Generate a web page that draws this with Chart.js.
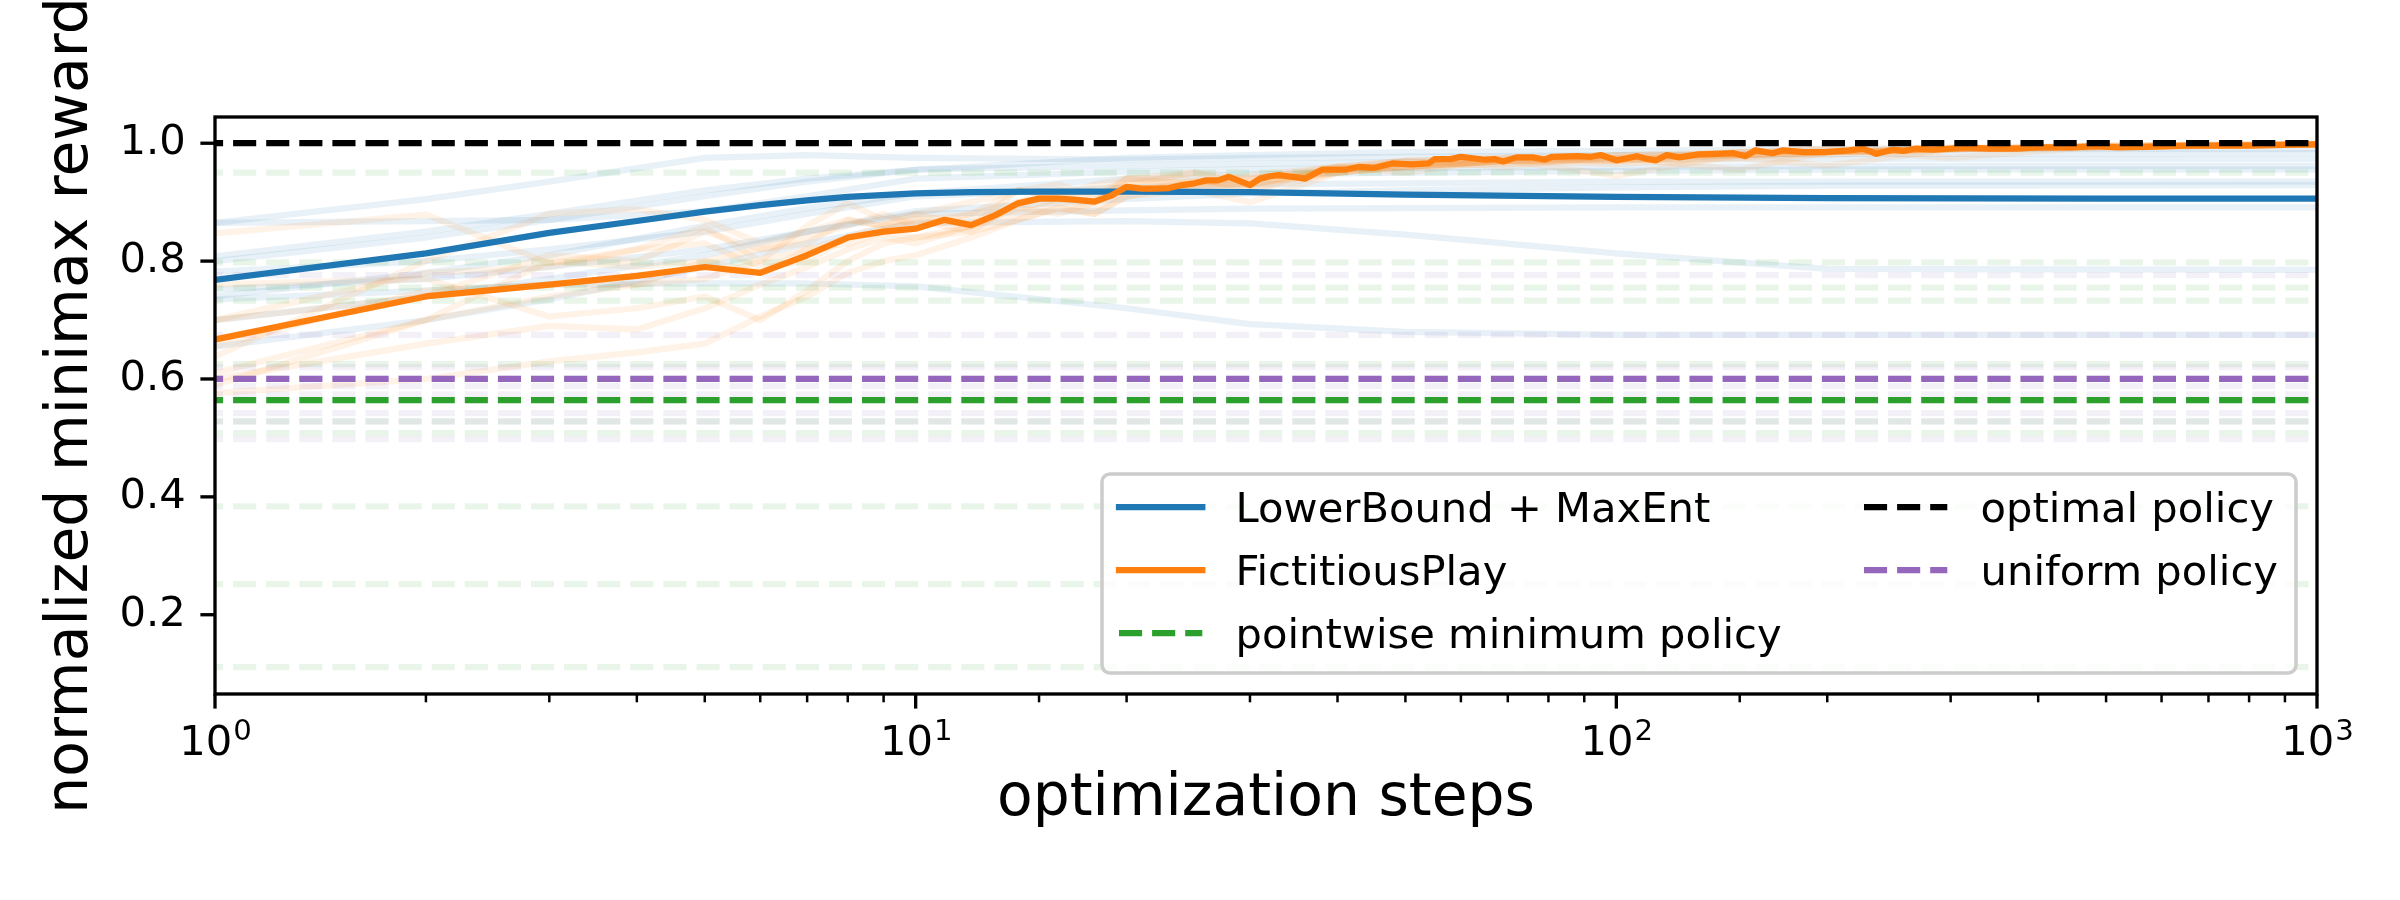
<!DOCTYPE html>
<html>
<head>
<meta charset="UTF-8">
<title>normalized minimax reward</title>
<style>
  html, body { margin: 0; padding: 0; background: #fff; }
  #wrap { width: 2400px; height: 900px; }
</style>
</head>
<body>
<div id="wrap"><canvas id="chart"></canvas></div>

<script src="https://cdn.jsdelivr.net/npm/chart.js@4.4.0/dist/chart.umd.min.js"></script>

<script>
// values
const xLimits = [1, 1000];
const yLimits = [0.0655, 1.0445];

// LowerBound + MaxEnt (mean)
const lbSteps = [1, 2, 3, 4, 5, 6, 7, 8, 10, 12, 15, 20, 30, 50, 100, 200, 500, 1000];
const lbMean  = [0.768, 0.813, 0.848, 0.868, 0.884, 0.895, 0.903, 0.909, 0.915, 0.917, 0.918, 0.918, 0.917, 0.913, 0.909, 0.907, 0.906, 0.906];

// FictitiousPlay (mean)
const fpSteps = [1, 2, 3, 4, 5, 6, 7, 8, 9, 10, 11, 12, 13, 14, 15, 16, 17, 18, 19, 20,
  21, 22, 23, 24, 25, 26, 27, 28, 30, 31, 32, 33, 36, 38, 41, 43, 45, 48, 51, 54,
  55, 58, 60, 65, 67, 69, 72, 76, 79, 81, 88, 92, 95, 100, 107, 110, 114, 118, 123, 131,
  139, 147, 153, 158, 167, 173, 185, 198, 215, 225, 235, 248, 257, 268, 283, 299, 316, 340, 373, 400,
  447, 480, 520, 572, 650, 720, 800, 900, 1000];
const fpMean = [0.667, 0.740, 0.760, 0.775, 0.790, 0.780, 0.810, 0.840, 0.850, 0.855, 0.870, 0.861, 0.878, 0.898, 0.906, 0.906, 0.904, 0.901, 0.911, 0.926,
  0.923, 0.923, 0.924, 0.929, 0.932, 0.937, 0.937, 0.943, 0.929, 0.940, 0.944, 0.946, 0.940, 0.955, 0.955, 0.960, 0.958, 0.966, 0.964, 0.966,
  0.973, 0.973, 0.977, 0.972, 0.973, 0.969, 0.976, 0.976, 0.972, 0.977, 0.978, 0.977, 0.980, 0.971, 0.978, 0.974, 0.971, 0.980, 0.976, 0.981,
  0.982, 0.983, 0.978, 0.988, 0.983, 0.988, 0.985, 0.985, 0.988, 0.991, 0.982, 0.989, 0.987, 0.991, 0.989, 0.991, 0.993, 0.991, 0.991, 0.993,
  0.993, 0.995, 0.993, 0.994, 0.996, 0.996, 0.996, 0.997, 0.998];

// single runs (faint lines)
const lbRunSteps = [1, 2, 3, 5, 7, 10, 20, 30, 50, 100, 200, 1000];
const lbRuns = [
  [0.865, 0.905, 0.935, 0.975, 0.980, 0.975, 0.972, 0.975, 0.977, 0.980, 0.982, 0.983],
  [0.865, 0.868, 0.870, 0.885, 0.910, 0.940, 0.952, 0.956, 0.958, 0.960, 0.961, 0.961],
  [0.808, 0.850, 0.880, 0.920, 0.940, 0.955, 0.962, 0.965, 0.968, 0.972, 0.973, 0.973],
  [0.782, 0.800, 0.820, 0.850, 0.880, 0.910, 0.925, 0.930, 0.932, 0.935, 0.935, 0.935],
  [0.752, 0.770, 0.790, 0.820, 0.850, 0.880, 0.886, 0.889, 0.890, 0.891, 0.891, 0.891],
  [0.735, 0.750, 0.760, 0.762, 0.762, 0.757, 0.720, 0.693, 0.680, 0.675, 0.675, 0.675],
  [0.655, 0.700, 0.735, 0.790, 0.830, 0.865, 0.868, 0.864, 0.845, 0.813, 0.787, 0.785],
  [0.740, 0.780, 0.810, 0.860, 0.890, 0.915, 0.940, 0.947, 0.950, 0.953, 0.955, 0.955],
  [0.700, 0.740, 0.770, 0.810, 0.850, 0.885, 0.905, 0.915, 0.920, 0.925, 0.928, 0.929],
  [0.800, 0.840, 0.870, 0.910, 0.935, 0.955, 0.975, 0.980, 0.985, 0.987, 0.990, 0.990]
];

const fpRunSteps = [1, 2, 3, 4, 5, 6, 7, 8, 9, 10, 12, 14, 16, 18, 20, 25, 30, 40, 50, 70, 100, 150, 200, 300, 500, 1000];
const fpRuns = [
  [0.847, 0.879, 0.796, 0.820, 0.858, 0.800, 0.860, 0.898, 0.870, 0.880, 0.900, 0.920, 0.910, 0.930, 0.940, 0.950, 0.940, 0.960, 0.970, 0.975, 0.980, 0.985, 0.990, 0.993, 0.996, 0.999],
  [0.760, 0.770, 0.706, 0.720, 0.740, 0.700, 0.750, 0.800, 0.830, 0.840, 0.850, 0.870, 0.890, 0.880, 0.910, 0.920, 0.900, 0.950, 0.960, 0.970, 0.975, 0.955, 0.985, 0.990, 0.994, 0.998],
  [0.638, 0.800, 0.880, 0.888, 0.870, 0.830, 0.850, 0.870, 0.860, 0.880, 0.860, 0.920, 0.910, 0.900, 0.940, 0.930, 0.945, 0.960, 0.950, 0.975, 0.970, 0.985, 0.990, 0.975, 0.995, 0.999],
  [0.610, 0.700, 0.800, 0.790, 0.800, 0.820, 0.840, 0.860, 0.880, 0.860, 0.880, 0.900, 0.920, 0.910, 0.930, 0.950, 0.930, 0.955, 0.970, 0.960, 0.980, 0.980, 0.985, 0.990, 0.995, 0.998],
  [0.600, 0.660, 0.690, 0.684, 0.720, 0.760, 0.790, 0.820, 0.840, 0.830, 0.860, 0.890, 0.880, 0.900, 0.920, 0.920, 0.935, 0.950, 0.960, 0.970, 0.965, 0.975, 0.962, 0.990, 0.993, 0.998],
  [0.576, 0.600, 0.630, 0.645, 0.660, 0.706, 0.740, 0.780, 0.800, 0.810, 0.840, 0.870, 0.890, 0.880, 0.910, 0.930, 0.920, 0.950, 0.960, 0.965, 0.975, 0.980, 0.980, 0.990, 0.994, 0.997],
  [0.590, 0.700, 0.740, 0.760, 0.800, 0.780, 0.820, 0.840, 0.850, 0.870, 0.850, 0.900, 0.910, 0.920, 0.930, 0.935, 0.940, 0.955, 0.960, 0.970, 0.970, 0.980, 0.985, 0.990, 0.995, 0.998],
  [0.700, 0.780, 0.790, 0.820, 0.830, 0.790, 0.800, 0.840, 0.860, 0.860, 0.870, 0.890, 0.905, 0.900, 0.920, 0.930, 0.930, 0.950, 0.965, 0.970, 0.970, 0.975, 0.985, 0.990, 0.993, 0.998],
  [0.655, 0.750, 0.760, 0.760, 0.770, 0.800, 0.820, 0.830, 0.850, 0.840, 0.860, 0.880, 0.900, 0.890, 0.920, 0.935, 0.930, 0.960, 0.960, 0.970, 0.945, 0.980, 0.985, 0.990, 0.994, 0.998],
  [0.700, 0.740, 0.810, 0.800, 0.850, 0.820, 0.830, 0.870, 0.860, 0.870, 0.880, 0.920, 0.930, 0.910, 0.940, 0.940, 0.920, 0.960, 0.970, 0.975, 0.975, 0.985, 0.985, 0.990, 0.996, 0.999]
];

// reference policies
const optimalValue = 1.0;
const pointwiseMean = 0.564;
const uniformMean = 0.600;
const pointwiseRuns = [0.950, 0.798, 0.755, 0.733, 0.625, 0.528, 0.508, 0.384, 0.252, 0.111];
const uniformRuns = [0.776, 0.675, 0.620, 0.600, 0.600, 0.588, 0.574, 0.542, 0.528, 0.498];

// x tick labels: base and exponent, drawn as 10^k
const xTickBase = '10';
const xTickExponents = { 1: '0', 10: '1', 100: '2', 1000: '3' };
const legendOrder = ['LowerBound + MaxEnt', 'FictitiousPlay', 'pointwise minimum policy', 'optimal policy', 'uniform policy'];

const BLUE = '#1f77b4', ORANGE = '#ff7f0e', GREEN = '#2ca02c', PURPLE = '#9467bd', BLACK = '#000000';
const FAINT = '1a';  // alpha 0.1
const LW = 6.25;
const DASH = [23.1, 10];
const FONT = '"DejaVu Sans"';

function line(label, xs, ys, color) {
  return {
    label: label,
    data: xs.map((x, i) => ({ x: x, y: ys[i] })),
    borderColor: color,
    borderWidth: LW,
    borderCapStyle: 'square',
    borderJoinStyle: 'round',
    pointRadius: 0,
    pointHoverRadius: 0,
    tension: 0,
    fill: false,
    clip: 0
  };
}

function hline(label, v, color) {
  const d = line(label, xLimits, [v, v], color);
  d.borderDash = DASH;
  d.borderDashOffset = 15;
  d.borderCapStyle = 'butt';
  return d;
}

// first dataset is drawn on top
const datasets = [
  hline('uniform policy', uniformMean, PURPLE),
  hline('optimal policy', optimalValue, BLACK),
  hline('pointwise minimum policy', pointwiseMean, GREEN),
  line('FictitiousPlay', fpSteps, fpMean, ORANGE),
  line('LowerBound + MaxEnt', lbSteps, lbMean, BLUE)
];
uniformRuns.forEach(v => datasets.push(hline('', v, PURPLE + FAINT)));
pointwiseRuns.forEach(v => datasets.push(hline('', v, GREEN + FAINT)));
fpRuns.forEach(r => datasets.push(line('', fpRunSteps, r, ORANGE + FAINT)));
lbRuns.forEach(r => datasets.push(line('', lbRunSteps, r, BLUE + FAINT)));

function isPow10(v) {
  const l = Math.log10(v);
  return Math.abs(l - Math.round(l)) < 1e-9;
}

// ticks (major/minor lengths differ), 10^k labels and the four spines
const axisDecor = {
  id: 'axisDecor',
  afterDraw(chart) {
    const { ctx, chartArea: a, scales: { x, y } } = chart;
    ctx.save();
    ctx.strokeStyle = '#000';
    ctx.fillStyle = '#000';
    ctx.lineCap = 'butt';
    ctx.textBaseline = 'alphabetic';
    ctx.textAlign = 'left';
    x.ticks.forEach(t => {
      const px = x.getPixelForValue(t.value);
      const major = isPow10(t.value);
      ctx.lineWidth = major ? 3.33 : 2.5;
      ctx.beginPath();
      ctx.moveTo(px, a.bottom);
      ctx.lineTo(px, a.bottom + (major ? 14.6 : 8.3));
      ctx.stroke();
      const ex = xTickExponents[t.value];
      if (ex !== undefined) {
        ctx.font = '41.67px ' + FONT;
        const wb = ctx.measureText(xTickBase).width;
        ctx.font = '29.2px ' + FONT;
        const we = ctx.measureText(ex).width;
        const x0 = px - (wb + we) / 2;
        const base = a.bottom + 61;
        ctx.font = '41.67px ' + FONT;
        ctx.fillText(xTickBase, x0, base);
        ctx.font = '29.2px ' + FONT;
        ctx.fillText(ex, x0 + wb + 1, base - 15);
      }
    });
    ctx.lineWidth = 3.33;
    y.ticks.forEach(t => {
      const py = y.getPixelForValue(t.value);
      ctx.beginPath();
      ctx.moveTo(a.left, py);
      ctx.lineTo(a.left - 14.6, py);
      ctx.stroke();
    });
    ctx.lineJoin = 'miter';
    ctx.strokeRect(a.left, a.top, a.right - a.left, a.bottom - a.top);
    ctx.restore();
  }
};

// two-column legend in the lower right, like the original
const boxLegend = {
  id: 'boxLegend',
  afterDraw(chart) {
    const ctx = chart.ctx;
    const box = { x: 1102, y: 474, w: 1194, h: 199 };
    const rows = [507, 570, 633];
    const cols = [1119, 1864];
    const handle = 83.3, gap = 33.3;
    ctx.save();
    ctx.beginPath();
    ctx.roundRect(box.x, box.y, box.w, box.h, 8);
    ctx.fillStyle = 'rgba(255,255,255,0.8)';
    ctx.fill();
    ctx.lineWidth = 3.5;
    ctx.strokeStyle = '#cccccc';
    ctx.stroke();
    ctx.font = '41.67px ' + FONT;
    ctx.textBaseline = 'alphabetic';
    ctx.textAlign = 'left';
    legendOrder.forEach((label, i) => {
      const ds = chart.data.datasets.find(d => d.label === label);
      const col = Math.floor(i / 3), row = i % 3;
      const x0 = cols[col], yy = rows[row];
      ctx.strokeStyle = ds.borderColor;
      ctx.lineWidth = ds.borderWidth;
      ctx.lineCap = ds.borderCapStyle;
      ctx.setLineDash(ds.borderDash || []);
      ctx.lineDashOffset = 0;
      ctx.beginPath();
      ctx.moveTo(x0, yy);
      ctx.lineTo(x0 + handle, yy);
      ctx.stroke();
      ctx.setLineDash([]);
      ctx.fillStyle = '#000';
      ctx.fillText(label, x0 + handle + gap, yy + 15);
    });
    ctx.restore();
  }
};

Chart.defaults.font.family = "'DejaVu Sans'";
Chart.defaults.color = '#000';

const chart = new Chart(document.getElementById('chart'), {
  type: 'line',
  data: { datasets: datasets },
  options: {
    responsive: true,
    maintainAspectRatio: false,
    devicePixelRatio: 1,
    animation: false,
    events: [],
    layout: { padding: { top: 117, right: 83, left: 0, bottom: 0 } },
    plugins: {
      legend: { display: false },
      tooltip: { enabled: false }
    },
    scales: {
      x: {
        type: 'logarithmic',
        min: xLimits[0],
        max: xLimits[1],
        afterFit(s) { s.height = 206; },
        border: { display: false },
        grid: { display: true, drawOnChartArea: false, drawTicks: true, tickLength: 14.6, color: 'rgba(0,0,0,0)', tickColor: 'rgba(0,0,0,0)' },
        ticks: {
          autoSkip: false,
          maxRotation: 0,
          padding: 7,
          font: { size: 41.67 },
          callback: () => ''
        },
        title: {
          display: true,
          text: 'optimization steps',
          font: { size: 58.33 },
          padding: { top: 0, bottom: 65 }
        }
      },
      y: {
        type: 'linear',
        min: yLimits[0],
        max: yLimits[1],
        afterFit(s) { s.width = 215; },
        border: { display: false },
        grid: { display: true, drawOnChartArea: false, drawTicks: true, tickLength: 14.6, color: 'rgba(0,0,0,0)', tickColor: 'rgba(0,0,0,0)' },
        ticks: {
          stepSize: 0.2,
          includeBounds: false,
          padding: 14.6,
          font: { size: 41.67 },
          callback: (v) => v.toFixed(1)
        },
        title: {
          display: true,
          text: 'normalized minimax reward',
          font: { size: 58.33 },
          padding: { top: 37, bottom: 0 }
        }
      }
    }
  },
  plugins: [axisDecor, boxLegend]
});
</script>
</body>
</html>
